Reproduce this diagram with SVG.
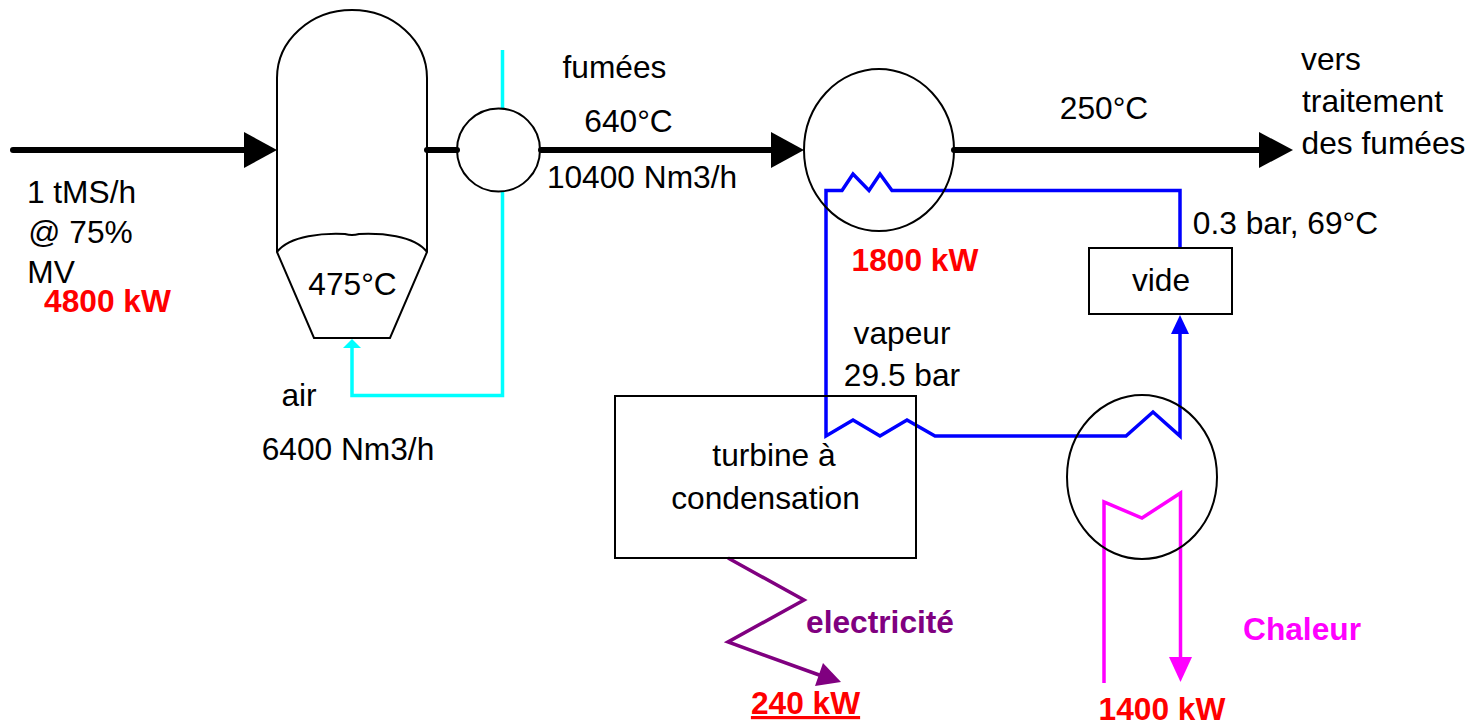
<svg xmlns="http://www.w3.org/2000/svg" width="1471" height="722" viewBox="0 0 1471 722">
<style>
text{font-family:"Liberation Sans",Arial,sans-serif;font-size:31.7px;fill:#000;text-anchor:middle}
.b{font-weight:bold}
.s{fill:none;stroke:#000;stroke-width:2}
.k{fill:none;stroke:#000;stroke-width:6;stroke-linecap:round}
.bl{fill:none;stroke:#0000ff;stroke-width:3.5;stroke-linejoin:miter}
.cy{fill:none;stroke:#00ffff;stroke-width:3.500}
.mg{fill:none;stroke:#ff00ff;stroke-width:3.5}
.pu{fill:none;stroke:#800080;stroke-width:3.5}
.red{fill:#f00}
</style>
<g id="connectors">
<path class="k" d="M13 150H248"/><polygon points="244,132 277,150 244,168" fill="#000"/>
<path class="k" d="M427 150H457"/>
<path class="k" d="M541 150H775"/><polygon points="771,132 804,150 771,168" fill="#000"/>
<path class="k" d="M954 150H1262"/><polygon points="1259,132 1293,150 1259,168" fill="#000"/>
<path class="cy" d="M502.500 50V109M502.500 191V395.500H352V348"/><polygon points="343,348 352,339 361,348" fill="#00ffff"/>
<path class="bl" d="M1180 248V190.500H892L880 174L869 190.500L853 174L842 190.500H826V436L853 420L880 436L907 420L935 436H1126L1153 412L1180 436V332"/><polygon points="1171,334 1180,315 1189,334" fill="#0000ff"/>
<path class="mg" d="M1104 683V502L1142 518L1180.500 493V660"/><polygon points="1169,657 1180.500,682 1192,657" fill="#ff00ff"/>
<path class="pu" d="M728 558L804 600L728 642L822 676"/><polygon points="823,663 841,682 815,686" fill="#800080"/>
</g>
<g id="reactor"><path class="s" d="M277 252V78A75 68 0 0 1 427 78V252L390 338H314Z"/><path class="s" d="M277 252C290 235 325 233 345 234Q352 236 359 234C380 233 414 235 427 252"/><text x="352.500" y="295">475°C</text></g>
<g id="cyclone"><circle class="s" cx="498.500" cy="150" r="41.500"/></g>
<g id="boiler"><ellipse class="s" cx="879" cy="150" rx="75" ry="81"/></g>
<g id="condenser"><ellipse class="s" cx="1142" cy="477" rx="75" ry="82"/></g>
<g id="vide"><rect class="s" x="1089" y="248" width="143" height="66"/><text x="1161" y="291">vide</text></g>
<g id="turbine"><rect class="s" x="615" y="396" width="301" height="162"/><text x="774" y="466">turbine à</text><text x="765.500" y="509">condensation</text></g>
<g id="labels">
<text x="81.500" y="203">1 tMS/h</text><text x="80.500" y="243">@ 75%</text><text x="51" y="283">MV</text>
<text class="b red" x="107.500" y="312">4800 kW</text>
<text x="299" y="406">air</text><text x="348" y="460">6400 Nm3/h</text>
<text x="614.500" y="78">fumées</text><text x="628.500" y="132">640°C</text><text x="642" y="188">10400 Nm3/h</text>
<text x="1104" y="119">250°C</text>
<text x="1331" y="70">vers</text><text x="1372.500" y="112">traitement</text><text x="1383.500" y="154">des fumées</text>
<text x="1285.500" y="234">0.3 bar, 69°C</text>
<text class="b red" x="915" y="271">1800 kW</text>
<text x="902" y="344">vapeur</text><text x="902" y="386">29.5 bar</text>
<text class="b" x="880" y="633" style="fill:#800080">electricité</text>
<text class="b red" x="805.500" y="714" style="text-decoration:underline">240 kW</text>
<text class="b" x="1302" y="640" style="fill:#ff00ff">Chaleur</text>
<text class="b red" x="1162" y="720">1400 kW</text>
</g>
</svg>
